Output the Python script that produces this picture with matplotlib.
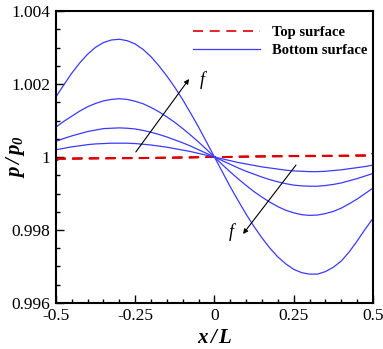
import numpy as np
import matplotlib.pyplot as plt
from matplotlib.ticker import MultipleLocator, FixedLocator, FixedFormatter

plt.rcParams['font.family'] = 'Liberation Serif'
plt.rcParams['mathtext.fontset'] = 'custom'
plt.rcParams['mathtext.it'] = 'Liberation Serif:italic:bold'
plt.rcParams['mathtext.rm'] = 'Liberation Serif:italic:bold'

# x/L stations, bottom surface
x = np.linspace(-0.5, 0.5, 41)

# bottom surface, (p/p0 - 1)*1e3, from highest f down
bot1 = [1.65, 1.98, 2.30, 2.58, 2.82, 3.01, 3.14, 3.21, 3.23, 3.19, 3.10, 2.95, 2.75,
        2.50, 2.22, 1.91, 1.57, 1.20, 0.82, 0.41, 0.0,
        -0.41, -0.82, -1.20, -1.57, -1.91, -2.22, -2.50, -2.74, -2.93, -3.08, -3.17,
        -3.21, -3.21, -3.14, -3.02, -2.85, -2.60, -2.30, -1.98, -1.68]
bot2 = [0.82, 0.98, 1.12, 1.26, 1.38, 1.47, 1.54, 1.58, 1.60, 1.58, 1.53, 1.46, 1.36,
        1.24, 1.10, 0.95, 0.78, 0.60, 0.41, 0.21, 0.0,
        -0.21, -0.41, -0.60, -0.78, -0.95, -1.10, -1.24, -1.36, -1.46, -1.53, -1.58,
        -1.60, -1.59, -1.55, -1.49, -1.40, -1.28, -1.15, -1.00, -0.85]
bot3 = [0.43, 0.51, 0.58, 0.64, 0.70, 0.74, 0.78, 0.79, 0.80, 0.79, 0.77, 0.73, 0.68,
        0.62, 0.55, 0.47, 0.39, 0.30, 0.20, 0.10, 0.0,
        -0.10, -0.20, -0.30, -0.39, -0.47, -0.55, -0.62, -0.68, -0.73, -0.77, -0.79,
        -0.80, -0.80, -0.78, -0.75, -0.71, -0.65, -0.59, -0.52, -0.45]
bot4 = [0.20, 0.24, 0.28, 0.31, 0.34, 0.36, 0.37, 0.38, 0.38, 0.38, 0.37, 0.35, 0.33,
        0.30, 0.27, 0.23, 0.19, 0.15, 0.10, 0.05, 0.0,
        -0.05, -0.10, -0.15, -0.19, -0.23, -0.27, -0.30, -0.33, -0.36, -0.38, -0.39,
        -0.40, -0.40, -0.39, -0.37, -0.35, -0.32, -0.29, -0.26, -0.22]

# top surface, (p/p0 - 1)*1e3
x_top = [-0.5, -0.49, -0.4, -0.3, -0.2, -0.1, 0.0, 0.1, 0.2, 0.3, 0.4, 0.49, 0.5]
top1 = [-0.11, -0.05, -0.04, -0.04, -0.03, -0.02, 0.0, 0.02, 0.03, 0.04, 0.04, 0.05, 0.11]
top2 = [-0.09, -0.05, -0.04, -0.03, -0.02, -0.01, 0.0, 0.01, 0.02, 0.03, 0.04, 0.05, 0.09]
top3 = [-0.07, -0.04, -0.04, -0.03, -0.02, -0.01, 0.0, 0.01, 0.02, 0.03, 0.03, 0.04, 0.07]
top4 = [-0.05, -0.04, -0.03, -0.02, -0.02, -0.01, 0.0, 0.01, 0.02, 0.02, 0.03, 0.04, 0.05]

yticks = [0.996, 0.998, 1.0, 1.002, 1.004]
ylabels = ['0.996', '0.998', '1', '1.002', '1.004']
xticks = [-0.5, -0.25, 0.0, 0.25, 0.5]
xlabels = ['-0.5', '-0.25', '0', '0.25', '0.5']

fig = plt.figure(figsize=(3.83, 3.49), dpi=100)
ax = fig.add_axes([0.146, 0.132, 0.828, 0.836])

for i, t in enumerate([top1, top2, top3, top4]):
    ax.plot(x_top, 1 + np.array(t) * 1e-3, color='#dd0000', lw=1.2, dashes=(6, 4),
            label='Top surface' if i == 0 else None)
for i, b in enumerate([bot1, bot2, bot3, bot4]):
    ax.plot(x, 1 + np.array(b) * 1e-3, color='#3a3aff', lw=0.9,
            label='Bottom surface' if i == 0 else None)

# direction of increasing f
ax.annotate('', xy=(-0.080, 1.00214), xytext=(-0.248, 1.00014),
            arrowprops=dict(arrowstyle='-|>', color='black', lw=0.8,
                            mutation_scale=7, shrinkA=0, shrinkB=0))
ax.annotate('', xy=(0.090, 0.99789), xytext=(0.257, 0.99978),
            arrowprops=dict(arrowstyle='-|>', color='black', lw=0.8,
                            mutation_scale=7, shrinkA=0, shrinkB=0))
ax.text(-0.038, 1.00212, 'f', fontsize=13, fontstyle='italic', ha='center', va='center')
ax.text(0.052, 0.99795, 'f', fontsize=13, fontstyle='italic', ha='center', va='center')

ax.set_xlim(-0.5, 0.5)
ax.set_ylim(0.996, 1.004)
ax.xaxis.set_major_locator(FixedLocator(xticks))
ax.xaxis.set_major_formatter(FixedFormatter(xlabels))
ax.yaxis.set_major_locator(FixedLocator(yticks))
ax.yaxis.set_major_formatter(FixedFormatter(ylabels))
ax.xaxis.set_minor_locator(MultipleLocator(0.05))
ax.yaxis.set_minor_locator(MultipleLocator(0.0005))
ax.tick_params(which='both', direction='in', width=1.0, labelsize=12.5)
ax.tick_params(which='major', length=6, pad=4)
ax.tick_params(which='minor', length=3)
for s in ax.spines.values():
    s.set_linewidth(1.5)

ax.set_xlabel(r'$x\,/\,L$', fontsize=15, labelpad=3)
ax.set_ylabel(r'$p\,/\,p_0$', fontsize=15)
ax.yaxis.set_label_coords(-0.09, 0.5)

leg = ax.legend(loc='upper right', bbox_to_anchor=(1.022, 0.995), frameon=False,
                handlelength=4.6, handletextpad=0.8, labelspacing=0.35,
                prop={'family': 'Liberation Serif', 'weight': 'bold', 'size': 10.5})

fig.savefig('out.png', dpi=100)
